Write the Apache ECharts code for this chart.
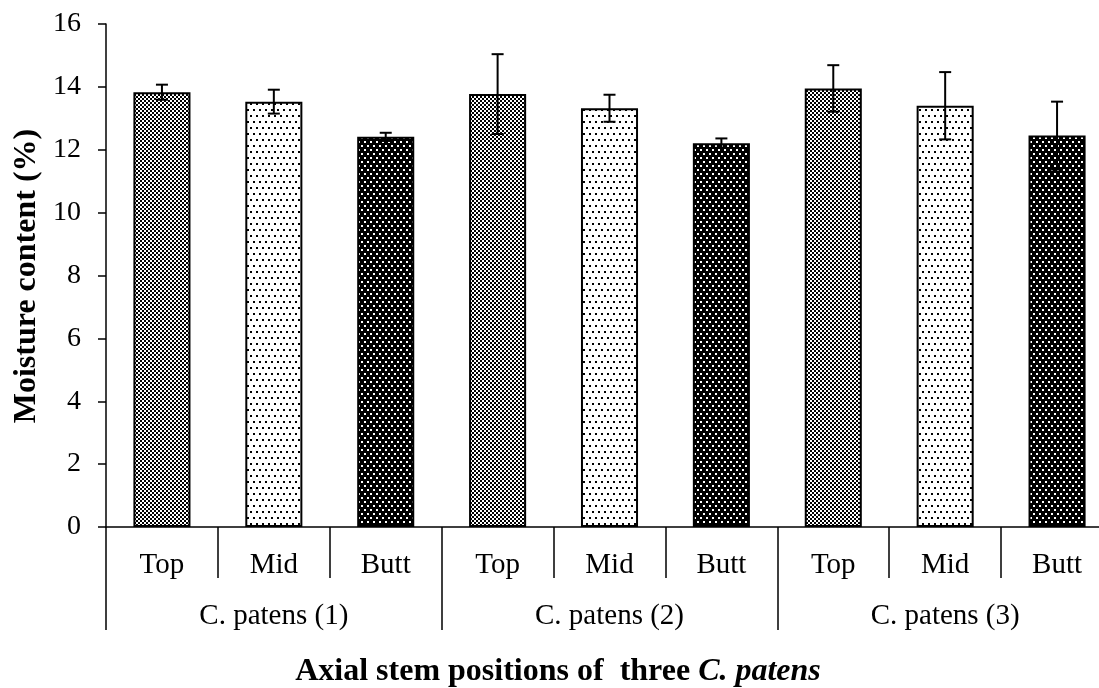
<!DOCTYPE html>
<html>
<head>
<meta charset="utf-8">
<script src="https://cdn.jsdelivr.net/npm/echarts@6/dist/echarts.min.js"></script>
<style>
  html, body { margin: 0; padding: 0; background: #fff; overflow: hidden; }
  /* plot runs past the right edge of the page, so the last band is clipped */
  #chart { width: 1113px; height: 688px; }
</style>
</head>
<body>
<div id="chart"></div>
<script>
// Stem positions (inner axis) and the three C. patens samples (outer axis)
const positions = ['Top', 'Mid', 'Butt', 'Top', 'Mid', 'Butt', 'Top', 'Mid', 'Butt'];
const samples = ['C. patens (1)', 'C. patens (2)', 'C. patens (3)'];
// Mean moisture content (%) and its error half-width per bar
const moisture = [13.83, 13.53, 12.41, 13.77, 13.32, 12.21, 13.95, 13.40, 12.45];
const errorSize = [0.24, 0.38, 0.13, 1.27, 0.43, 0.15, 0.74, 1.07, 1.08];
const yMin = 0, yMax = 16, yStep = 2;

const FONT = '"Liberation Serif", "Times New Roman", serif';

// Fill textures for the three stem positions
function tile(w, h, bg, fg, cells) {
  const c = document.createElement('canvas');
  c.width = w; c.height = h;
  const g = c.getContext('2d');
  g.fillStyle = bg; g.fillRect(0, 0, w, h);
  g.fillStyle = fg;
  cells.forEach(([x, y, s]) => g.fillRect(x, y, s, s));
  return { image: c, repeat: 'repeat' };
}
const fills = {
  Top: tile(4, 4, '#fff', '#000', [[0, 0, 2], [2, 2, 2]]),
  Mid: tile(12, 12, '#fff', '#000', [[1, 1, 2], [7, 1, 2], [4, 7, 2], [10, 7, 2]]),
  Butt: tile(12, 8, '#000', '#fff', [[1, 1, 2], [7, 1, 2], [4, 5, 2], [10, 5, 2]])
};

const barData = moisture.map((v, i) => ({
  value: v,
  itemStyle: { color: fills[positions[i]] }
}));
const errData = moisture.map((v, i) => [i, v - errorSize[i], v + errorSize[i]]);

const chart = echarts.init(document.getElementById('chart'));
chart.setOption({
  animation: false,
  backgroundColor: '#fff',
  textStyle: { fontFamily: FONT, color: '#000' },
  grid: { left: 106, right: 0, top: 24, bottom: 161, containLabel: false },
  xAxis: [
    {
      type: 'category',
      data: positions,
      position: 'bottom',
      axisLine: { show: true, lineStyle: { color: '#000', width: 1.5 } },
      axisTick: { show: true, interval: 0, length: 51, lineStyle: { color: '#000', width: 1.5 } },
      axisLabel: { interval: 0, margin: 24, fontSize: 29, color: '#000', fontFamily: FONT },
      splitLine: { show: false }
    },
    {
      type: 'category',
      data: samples,
      position: 'bottom',
      axisLine: { show: false },
      axisTick: { show: true, interval: 0, length: 103, lineStyle: { color: '#000', width: 1.5 } },
      axisLabel: { interval: 0, margin: 75, fontSize: 29, color: '#000', fontFamily: FONT },
      splitLine: { show: false }
    }
  ],
  yAxis: {
    type: 'value',
    min: yMin,
    max: yMax,
    interval: yStep,
    axisLine: { show: true, lineStyle: { color: '#000', width: 1.5 } },
    axisTick: { show: true, length: 8, lineStyle: { color: '#000', width: 1.5 } },
    axisLabel: { margin: 25, fontSize: 28, color: '#000', fontFamily: FONT },
    splitLine: { show: false }
  },
  series: [
    {
      type: 'bar',
      xAxisIndex: 0,
      data: barData,
      barWidth: '51%',
      itemStyle: { borderColor: '#000', borderWidth: 2 }
    },
    {
      type: 'custom',
      xAxisIndex: 0,
      data: errData,
      encode: { x: 0, y: [1, 2] },
      z: 5,
      renderItem(params, api) {
        const idx = api.value(0);
        const lo = api.coord([idx, api.value(1)]);
        const hi = api.coord([idx, api.value(2)]);
        const half = 6;
        const st = { stroke: '#000', lineWidth: 2 };
        return {
          type: 'group',
          children: [
            { type: 'line', shape: { x1: lo[0], y1: lo[1], x2: hi[0], y2: hi[1] }, style: st },
            { type: 'line', shape: { x1: lo[0] - half, y1: lo[1], x2: lo[0] + half, y2: lo[1] }, style: st },
            { type: 'line', shape: { x1: hi[0] - half, y1: hi[1], x2: hi[0] + half, y2: hi[1] }, style: st }
          ]
        };
      }
    }
  ],
  graphic: [
    {
      type: 'text',
      x: 27,
      y: 276,
      rotation: Math.PI / 2,
      style: {
        text: 'Moisture content (%)',
        font: 'bold 32px ' + FONT,
        fill: '#000',
        align: 'center',
        verticalAlign: 'middle'
      }
    },
    {
      type: 'text',
      x: 558,
      y: 672,
      style: {
        text: '{n|Axial stem positions of  three }{i|C. patens}',
        fill: '#000',
        align: 'center',
        verticalAlign: 'middle',
        rich: {
          n: { font: 'bold 32px ' + FONT, fill: '#000' },
          i: { font: 'italic bold 32px ' + FONT, fill: '#000' }
        }
      }
    }
  ]
});
</script>
</body>
</html>
